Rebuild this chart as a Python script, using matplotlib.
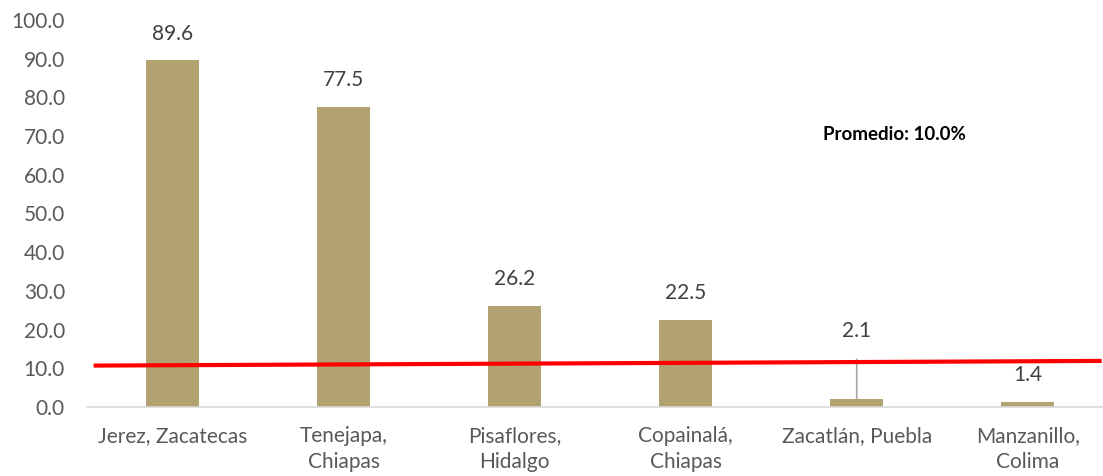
import numpy as np
import matplotlib.pyplot as plt

categories = ['Jerez, Zacatecas', 'Tenejapa,\nChiapas', 'Pisaflores,\nHidalgo',
              'Copainalá,\nChiapas', 'Zacatlán, Puebla', 'Manzanillo,\nColima']
values = [89.6, 77.5, 26.2, 22.5, 2.1, 1.4]
avg_line = [10.7, 11.9]   # red reference line, left and right ends
avg_label = 'Promedio: 10.0%'

plt.rcParams['font.family'] = ['Lato', 'DejaVu Sans']

fig = plt.figure(figsize=(11.03, 4.76), dpi=100)
ax = fig.add_axes([0.079, 0.145, 0.921, 0.813])

x = np.arange(len(categories))
ax.bar(x, values, width=0.31, color='#B1A26F', zorder=2)

for i, v in enumerate(values):
    if i == 4:
        # label lifted above the red line with a leader line
        ax.annotate(f'{v:.1f}', xy=(i, v), xytext=(i, v + 17.5),
                    ha='center', va='center', fontsize=15, color='#404040',
                    arrowprops=dict(arrowstyle='-', color='#A6A6A6', lw=1.2,
                                    shrinkA=11, shrinkB=0))
    else:
        ax.text(i, v + 4.3, f'{v:.1f}', ha='center', va='bottom',
                fontsize=15, color='#404040')

ax.plot([-0.45, 5.42], avg_line, color='#FF0000', lw=3, zorder=3)
ax.text(4.22, 70.3, avg_label, fontsize=13.5, fontweight='bold', color='black',
        ha='center', va='center')

ax.set_xlim(-0.5, 5.44)
ax.set_ylim(0, 100)
ax.set_yticks(np.arange(0, 101, 10))
ax.set_yticklabels([f'{t:.1f}' for t in np.arange(0, 101, 10)])
ax.set_xticks(x)
ax.set_xticklabels(categories, linespacing=1.35)
ax.tick_params(axis='both', length=0, labelsize=15, labelcolor='#595959')
ax.tick_params(axis='x', pad=14)
ax.tick_params(axis='y', pad=16)

for s in ['top', 'right', 'left']:
    ax.spines[s].set_visible(False)
ax.spines['bottom'].set_color('#D9D9D9')
ax.spines['bottom'].set_linewidth(1.2)

fig.savefig('out.png', dpi=100)
